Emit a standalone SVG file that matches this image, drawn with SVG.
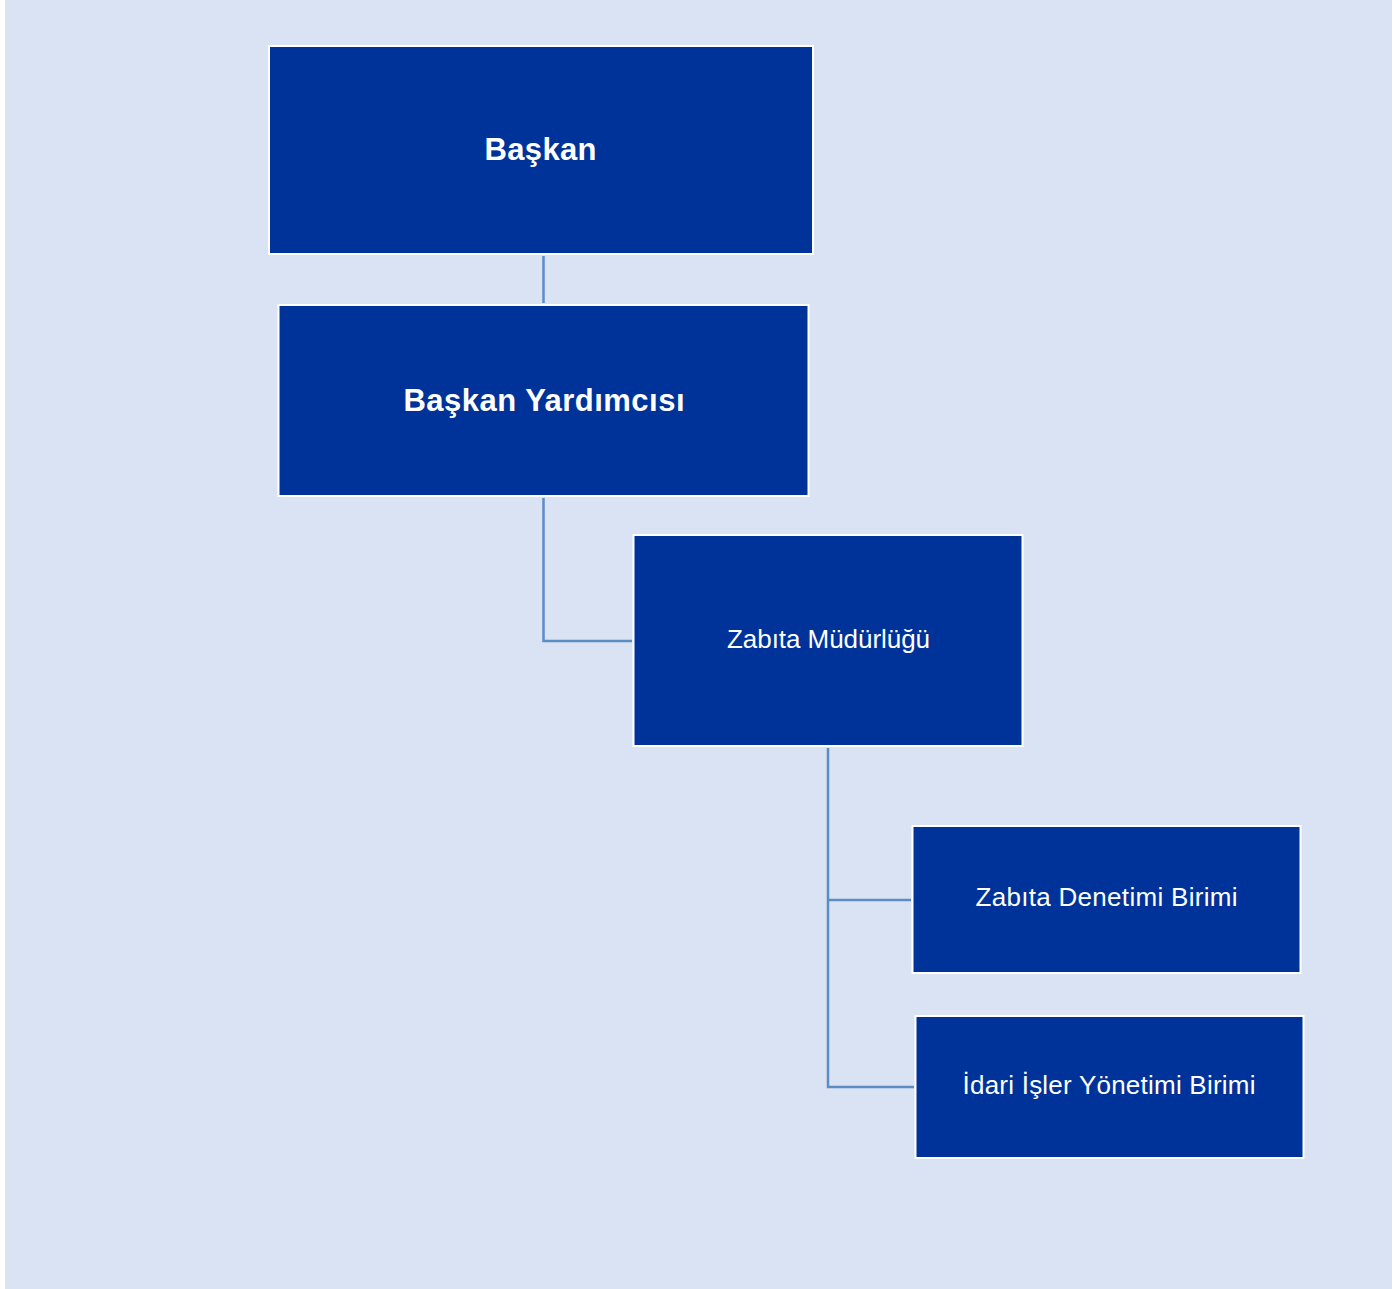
<svg xmlns="http://www.w3.org/2000/svg" width="1396" height="1289" viewBox="0 0 1396 1289">
  <style>
    .box { fill: #003399; stroke: #ffffff; stroke-width: 2; }
    .lbl { fill: #ffffff; font-family: "Liberation Sans", Arial, sans-serif; text-anchor: middle; }
    .bold { font-weight: bold; font-size: 31px; }
    .reg { font-size: 26px; }
    .link { fill: none; stroke: #5b8cc4; stroke-width: 2.5; }
  </style>
  <rect x="0" y="0" width="1396" height="1289" fill="#ffffff"/>
  <rect x="5" y="0" width="1387" height="1289" fill="#dae3f3"/>

  <g id="connectors">
    <path class="link" d="M543.5 256 V303"/>
    <path class="link" d="M543.5 498 V641 H632"/>
    <path class="link" d="M828 748 V1087 H914"/>
    <path class="link" d="M828 900 H911"/>
  </g>

  <g id="baskan">
    <rect class="box" x="269" y="46" width="544" height="208"/>
    <text class="lbl bold" x="540.5" y="160" textLength="112" lengthAdjust="spacing">Başkan</text>
  </g>
  <g id="baskan-yardimcisi">
    <rect class="box" x="278.5" y="305" width="530" height="191"/>
    <text class="lbl bold" x="544" y="411" textLength="281" lengthAdjust="spacing">Başkan Yardımcısı</text>
  </g>
  <g id="zabita-mudurlugu">
    <rect class="box" x="633.5" y="535" width="389" height="211"/>
    <text class="lbl reg" x="828.5" y="648" textLength="203" lengthAdjust="spacing">Zabıta Müdürlüğü</text>
  </g>
  <g id="zabita-denetimi-birimi">
    <rect class="box" x="912.5" y="826" width="388" height="147"/>
    <text class="lbl reg" x="1106.5" y="906" textLength="262" lengthAdjust="spacing">Zabıta Denetimi Birimi</text>
  </g>
  <g id="idari-isler-yonetimi-birimi">
    <rect class="box" x="915.5" y="1016" width="388" height="142"/>
    <text class="lbl reg" x="1109" y="1094" textLength="293" lengthAdjust="spacing">İdari İşler Yönetimi Birimi</text>
  </g>
</svg>
